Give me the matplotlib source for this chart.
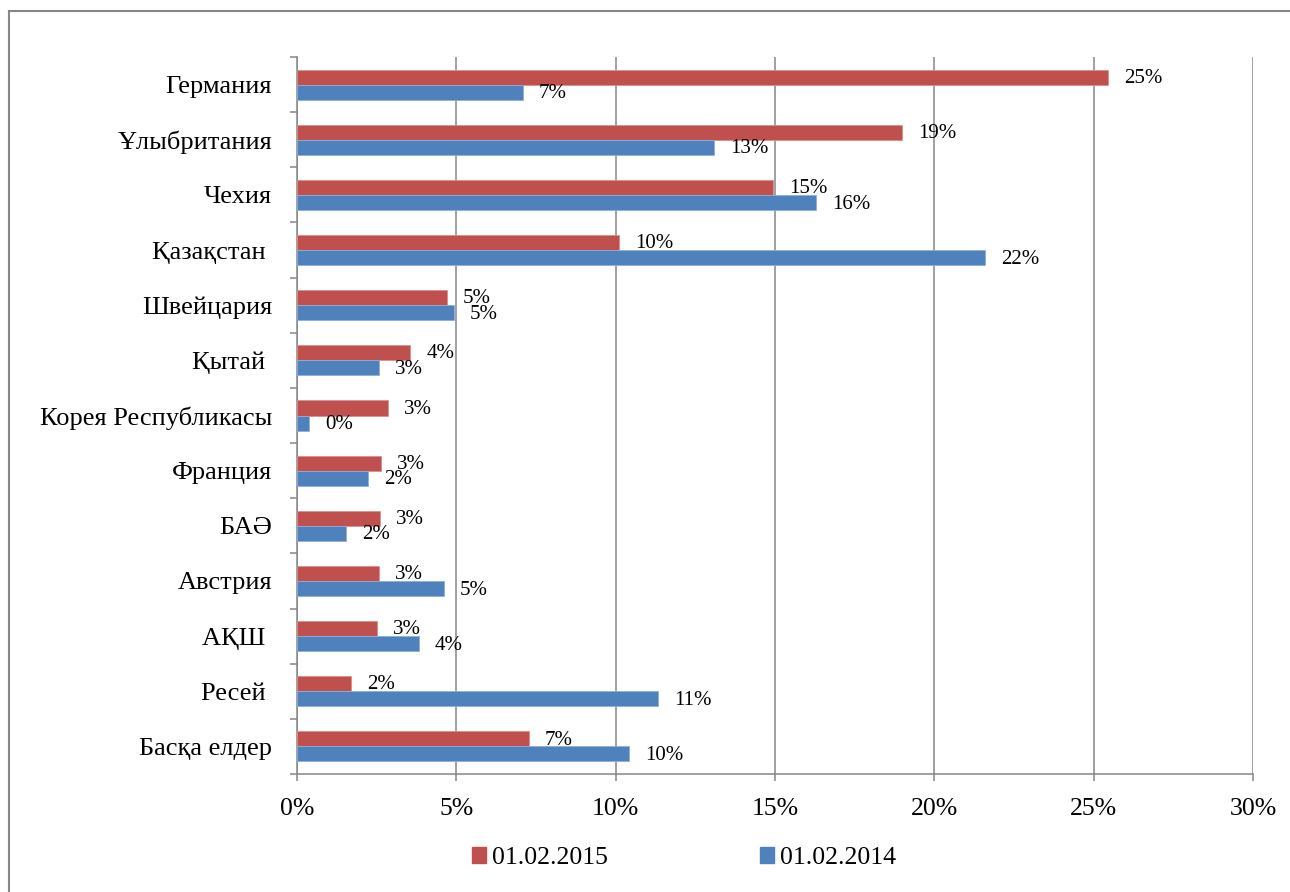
import matplotlib
matplotlib.use("Agg")
import matplotlib.pyplot as plt
import numpy as np
from matplotlib.patches import Patch
from matplotlib.lines import Line2D

plt.rcParams['font.family'] = ['Liberation Serif', 'DejaVu Serif']

# данные (в процентах)
countries = ["Германия", "Ұлыбритания", "Чехия", "Қазақстан ", "Швейцария",
             "Қытай ", "Корея Республикасы", "Франция", "БАӘ", "Австрия",
             "АҚШ ", "Ресей ", "Басқа елдер"]
share_2015 = [25.45, 19.0, 14.94, 10.1, 4.71, 3.55, 2.86, 2.64, 2.6, 2.57, 2.52, 1.69, 7.28]
share_2014 = [7.09, 13.08, 16.28, 21.59, 4.93, 2.57, 0.38, 2.23, 1.54, 4.61, 3.83, 11.33, 10.42]
xticks = [0, 5, 10, 15, 20, 25, 30]

red = '#C0504D'
blue = '#4F81BD'
grey = '#868686'

fig = plt.figure(figsize=(12.9, 8.92), dpi=100)
ax = fig.add_axes([297 / 1290, 118 / 892, (1253 - 297) / 1290, (774 - 57) / 892])

y = np.arange(len(countries))
h = 0.272
ax.barh(y - h / 2, share_2015, height=h, color=red, edgecolor='#D9908E', linewidth=0.6,
        label='01.02.2015', zorder=3)
ax.barh(y + h / 2, share_2014, height=h, color=blue, edgecolor='#8FAFD8', linewidth=0.6,
        label='01.02.2014', zorder=3)

# подписи значений
for i in range(len(countries)):
    ax.annotate(f"{round(share_2015[i])}%", (share_2015[i], y[i] - h / 2 + 0.02),
                xytext=(16, 0), textcoords='offset pixels', va='center', ha='left',
                fontsize=15, zorder=4)
    ax.annotate(f"{round(share_2014[i])}%", (share_2014[i], y[i] + h / 2 + 0.03),
                xytext=(16, 0), textcoords='offset pixels', va='center', ha='left',
                fontsize=15, zorder=4)

ax.set_xlim(0, 30)
ax.set_ylim(len(countries) - 0.5, -0.5)
ax.set_xticks(xticks)
ax.set_xticklabels([f"{t}%" for t in xticks], fontsize=18.5)
ax.set_yticks(y)
ax.set_yticklabels(countries, fontsize=19)
ax.set_yticks(np.arange(-0.5, len(countries)), minor=True)
ax.tick_params(axis='y', which='major', length=0, pad=18)
ax.tick_params(axis='y', which='minor', length=5, width=1.1, color=grey, direction='out')
ax.tick_params(axis='x', which='major', length=5, width=1.1, color=grey, direction='out', pad=12)

ax.grid(axis='x', color=grey, linewidth=1.1, zorder=0)
ax.set_axisbelow(True)
for s in ['top', 'right']:
    ax.spines[s].set_visible(False)
for s in ['left', 'bottom']:
    ax.spines[s].set_color(grey)
    ax.spines[s].set_linewidth(1.1)

# легенда
handles = [Patch(color=red, label='01.02.2015'), Patch(color=blue, label='01.02.2014')]
fig.legend(handles=handles, loc='center', bbox_to_anchor=(684 / 1290, 1 - 858 / 892),
           ncol=2, frameon=False, fontsize=18.5, handlelength=0.55, handleheight=0.55,
           handletextpad=0.25, columnspacing=5.9)

# рамка
fig.add_artist(Line2D([9 / 1290, 9 / 1290], [0, 1 - 11 / 892], color=grey, lw=1.5,
                      transform=fig.transFigure))
fig.add_artist(Line2D([9 / 1290, 1], [1 - 11 / 892, 1 - 11 / 892], color=grey, lw=1.5,
                      transform=fig.transFigure))

fig.savefig("out.png", dpi=100)
plt.close(fig)
